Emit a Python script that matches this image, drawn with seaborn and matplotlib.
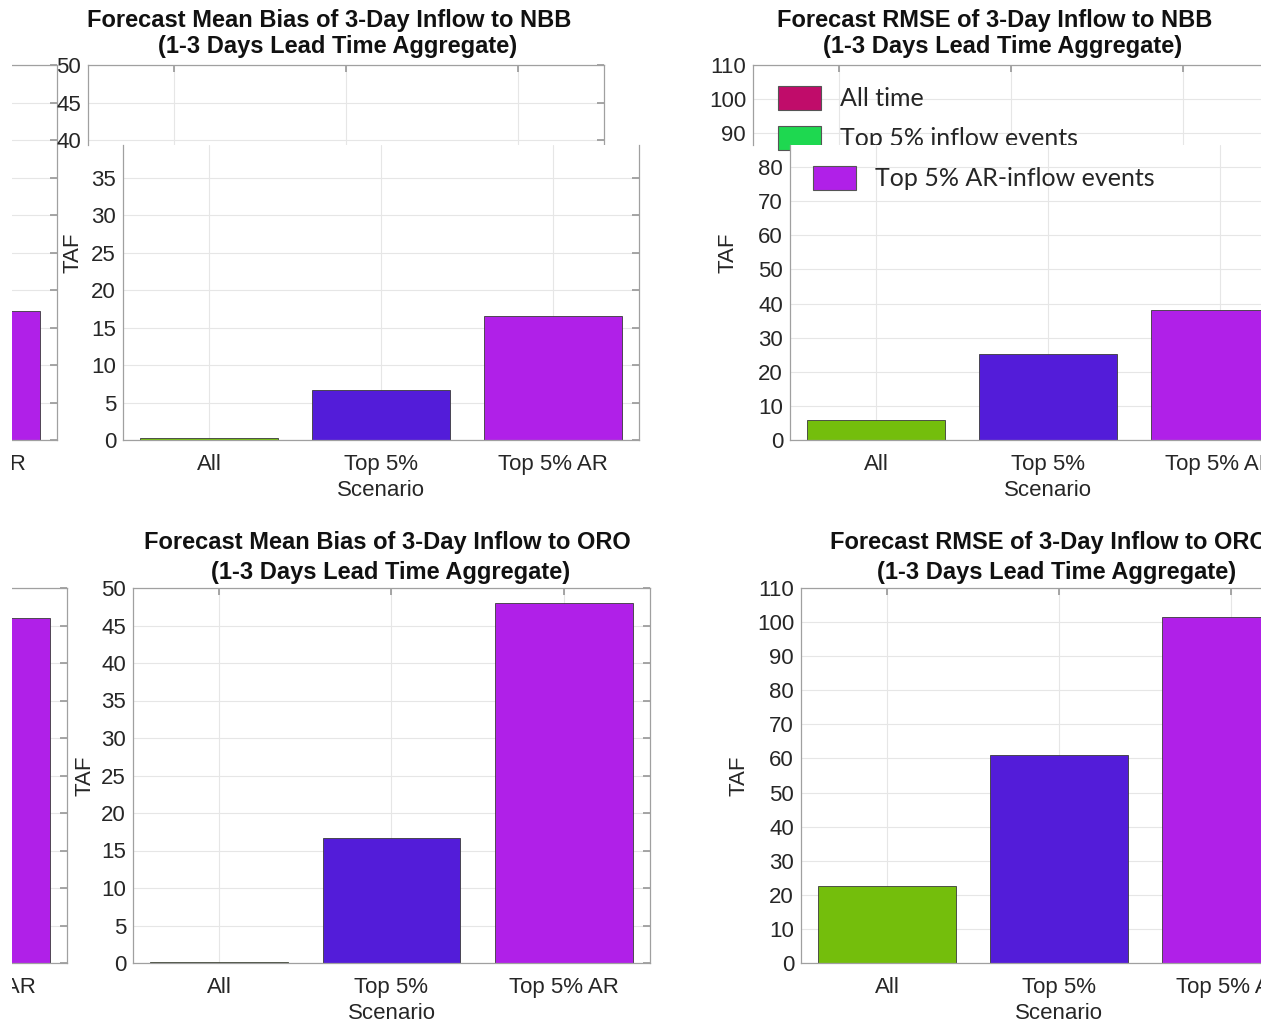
import matplotlib
matplotlib.use("Agg")
import matplotlib.pyplot as plt
from matplotlib.patches import Rectangle, Patch
import seaborn as sns

# data (TAF)
scenarios = ["All", "Top 5%", "Top 5% AR"]
bias_nbb = [0.3, 6.7, 16.6]
rmse_nbb = [5.9, 25.3, 38.2]
bias_oro = [0.1, 16.7, 48.0]
rmse_oro = [22.6, 61.0, 101.5]
# the clipped panels peeking in on the left edge (only their last bar shows)
clip_top = [17.2]
clip_bot = [46.0]

bar_colors = ["#74BE0C", "#531CD9", "#B020E8"]
legend_labels = ["All time", "Top 5% inflow events", "Top 5% AR-inflow events"]
legend_colors = ["#C00C6A", "#1ED850", "#B020E8"]

sns.set_theme(style="white")
plt.rcParams["font.family"] = ["Liberation Sans", "DejaVu Sans"]

W, H = 1271, 1023
fig = plt.figure(figsize=(W / 100, H / 100), dpi=100)


def px_axes(x0, y0, x1, y1):
    return fig.add_axes([x0 / W, 1 - y1 / H, (x1 - x0) / W, (y1 - y0) / H])


def panel(box, vals, ylo, yhi, step, cats=scenarios, colors=bar_colors,
          lim=(-0.5, 2.5), xlabels=True, ylab=None, cut_top=False, cut_bottom=False):
    ax = px_axes(*box)
    sns.barplot(x=cats, y=vals, hue=cats, palette=colors, legend=False, ax=ax,
                width=0.8, edgecolor="#3a3a3a", linewidth=0.6, saturation=1)
    ax.set_xlim(*lim)
    ax.set_ylim(ylo, yhi)
    first = int(-(-ylo // step)) * step
    ax.set_yticks(range(first, int(yhi) + 1, step))
    ax.tick_params(direction="in", length=5, right=True, top=True,
                   labelsize=16, color="#9a9a9a", labelcolor="#262626")
    ax.tick_params(axis="x", pad=10)
    ax.tick_params(axis="y", pad=5)
    ax.grid(True, color="#e6e6e6", linewidth=0.8)
    ax.set_axisbelow(True)
    for s in ax.spines.values():
        s.set_color("#a0a0a0")
        s.set_linewidth(0.9)
    if cut_top:
        ax.spines["top"].set_visible(False)
        ax.tick_params(top=False)
    if cut_bottom:
        ax.spines["bottom"].set_visible(False)
        ax.tick_params(bottom=False, labelbottom=False)
    ax.set_xlabel("")
    ax.set_ylabel("")
    if xlabels and not cut_bottom:
        ax.set_xlabel("Scenario", fontsize=16, color="#262626", labelpad=4)
    if ylab is not None:
        ax.set_ylabel("TAF", fontsize=16, color="#262626")
        ax.yaxis.set_label_coords(*ylab)
    return ax


# clipped neighbours on the left edge
panel((57 - 516, 65, 57, 440), clip_top, 0, 50, 5, cats=["Top 5% AR"],
      colors=[bar_colors[2]], lim=(-2.5, 0.5), xlabels=False)
panel((67 - 516, 588, 67, 963), clip_bot, 0, 50, 5, cats=["Top 5% AR"],
      colors=[bar_colors[2]], lim=(-2.5, 0.5), xlabels=False)

# top row: each panel was pasted in two pieces, the upper strip sits 35 px to the left
frag_tl = panel((88, 65, 604, 145), bias_nbb, 39.4, 50, 5, cut_bottom=True)
frag_tr = panel((753, 65, 1269, 145), rmse_nbb, 86.5, 110, 10, cut_bottom=True)

handles = [Patch(facecolor=c, edgecolor="#555555", linewidth=0.8) for c in legend_colors]
leg_kw = dict(loc="upper left", bbox_transform=fig.transFigure, frameon=False,
              handlelength=1.75, handleheight=1.1, labelspacing=0.62, handletextpad=0.75,
              prop={"family": "Lato", "size": 18})
frag_tr.legend(handles[:2], legend_labels[:2], bbox_to_anchor=(755 / W, 1 - 63 / H), **leg_kw)

ax_tl = panel((123, 145, 639, 440), bias_nbb, 0, 39.4, 5, cut_top=True,
              ylab=(-0.076, 0.634))
ax_tr = panel((790, 145, 1306, 440), rmse_nbb, 0, 86.5, 10, cut_top=True,
              ylab=(-0.099, 0.634))
ax_tr.legend(handles[2:], legend_labels[2:], bbox_to_anchor=(790 / W, 1 - 143 / H), **leg_kw)

ax_bl = panel((133, 588, 650, 963), bias_oro, 0, 50, 5, ylab=(-0.0735, 0.5))
ax_br = panel((801, 588, 1317, 963), rmse_oro, 0, 110, 10, ylab=(-0.099, 0.5))

# the pasted panels are cut a little short of both edges
fig.add_artist(Rectangle((0, 0), 12 / W, 1, transform=fig.transFigure,
                         facecolor="white", edgecolor="none", zorder=10))
fig.add_artist(Rectangle((1261 / W, 0), 10 / W, 1, transform=fig.transFigure,
                         facecolor="white", edgecolor="none", zorder=10))

# titles
title_kw = dict(fontsize=17, fontweight="bold", ha="center", va="center", color="#111111")
fig.text(329 / W, 1 - 20 / H, "Forecast Mean Bias of 3-Day Inflow to NBB", **title_kw)
fig.text(338 / W, 1 - 47 / H, "(1-3 Days Lead Time Aggregate)", **title_kw)
fig.text(995 / W, 1 - 20 / H, "Forecast RMSE of 3-Day Inflow to NBB", **title_kw)
fig.text(1003 / W, 1 - 47 / H, "(1-3 Days Lead Time Aggregate)", **title_kw)
fig.text(387 / W, 1 - 542 / H, "Forecast Mean Bias of 3-Day Inflow to ORO", **title_kw)
fig.text(391 / W, 1 - 572 / H, "(1-3 Days Lead Time Aggregate)", **title_kw)
fig.text(1049 / W, 1 - 542 / H, "Forecast RMSE of 3-Day Inflow to ORO", **title_kw)
fig.text(1057 / W, 1 - 572 / H, "(1-3 Days Lead Time Aggregate)", **title_kw)

fig.savefig("out.png", dpi=100, facecolor="white")
